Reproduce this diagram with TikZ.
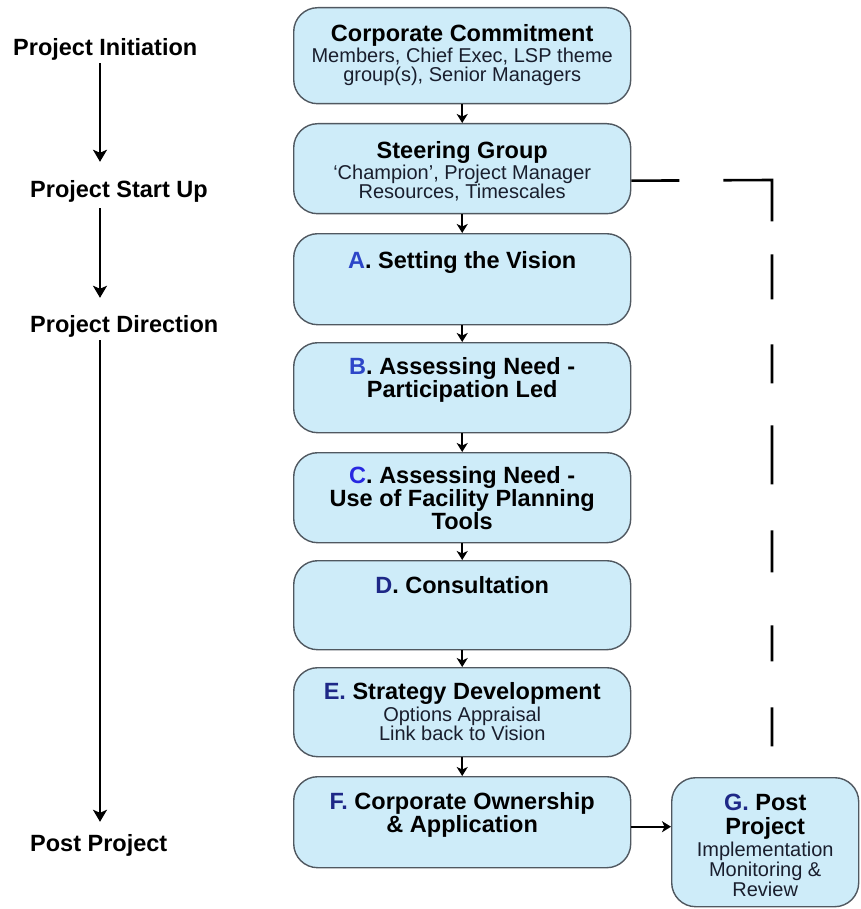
\documentclass[tikz,border=0pt]{standalone}
\usepackage{fontspec}
\setmainfont{Liberation Sans}
\usetikzlibrary{arrows.meta,calc}
\definecolor{boxfill}{RGB}{206,236,249}
\definecolor{boxline}{RGB}{80,88,96}
\definecolor{ltrA}{RGB}{45,70,200}
\definecolor{ltrC}{RGB}{40,40,225}
\definecolor{ltrN}{RGB}{30,40,135}
\definecolor{subtext}{RGB}{25,30,45}
\newcommand{\tfnt}{\fontsize{23.5pt}{23pt}\selectfont\bfseries}
\newcommand{\sfnt}{\fontsize{20pt}{19pt}\selectfont}
\newcommand{\bxc}[4]{\parbox[c][#2pt][t]{#1pt}{\centering\vspace*{#3pt}#4}}
\begin{document}
\begin{tikzpicture}[x=1pt,y=-1pt,
 box/.style={draw=boxline,fill=boxfill,line width=1.4pt,rounded corners=24pt,inner sep=0pt,anchor=north west},
 lbl/.style={anchor=west,inner sep=0pt,font=\tfnt,text height=17pt,text depth=5pt},
 flow/.style={line width=2pt,-{Stealth[length=9pt,width=11pt,inset=2.5pt]}},
 phase/.style={line width=2.6pt,-{Stealth[length=12pt,width=14pt,inset=3pt]}},
 feedback/.style={line width=2.6pt,dash pattern=on 48pt off 44pt on 90pt off 33pt on 45pt off 45pt on 39pt off 42pt on 59pt off 46pt on 42pt off 53pt on 36pt off 46pt on 39pt off 100pt}]
\useasboundingbox (0,0) rectangle (860,909);

% main column
\node[box] (cc) at (293,7) {\bxc{337}{96}{16.6}{{\tfnt Corporate Commitment\par}\vspace{1pt}{\color{subtext}\sfnt Members, Chief Exec, LSP theme\\ group(s), Senior Managers\par}}};
\node[box] (sg) at (293,123) {\bxc{337}{90}{17.6}{{\tfnt Steering Group\par}\vspace{1pt}{\color{subtext}\sfnt `Champion', Project Manager\\ Resources, Timescales\par}}};
\node[box] (a) at (293,233) {\bxc{337}{91}{17.6}{{\tfnt\textcolor{ltrA}{A}. Setting the Vision\par}}};
\node[box] (b) at (293,342) {\bxc{337}{90}{14.5}{{\tfnt\textcolor{ltrA}{B}. Assessing Need -\\ Participation Led\par}}};
\node[box] (c) at (293,452) {\bxc{337}{90}{13.6}{{\tfnt\textcolor{ltrC}{C}. Assessing Need -\\ Use of Facility Planning\\ Tools\par}}};
\node[box] (d) at (293,560) {\bxc{337}{89}{15.6}{{\tfnt\textcolor{ltrN}{D}. Consultation\par}}};
\node[box] (e) at (293,667) {\bxc{337}{89}{14.6}{{\tfnt\textcolor{ltrN}{E.} Strategy Development\par}\vspace{1.5pt}{\color{subtext}\sfnt Options Appraisal\\ Link back to Vision\par}}};
\node[box] (f) at (293,776) {\bxc{337}{91}{15.6}{{\tfnt\textcolor{ltrN}{F.} Corporate Ownership\\ \& Application\par}}};
\node[box] (g) at (671,777) {\bxc{187}{129}{16.6}{{\fontsize{23.5pt}{24pt}\selectfont\bfseries\textcolor{ltrN}{G.} Post\\ Project\par}\vspace{1.5pt}{\color{subtext}\fontsize{20pt}{20pt}\selectfont Implementation\\ Monitoring \&\\ Review\par}}};

\draw[flow] (cc.south) -- (sg.north);
\draw[flow] (sg.south) -- (a.north);
\draw[flow] (a.south) -- (b.north);
\draw[flow] (b.south) -- (c.north);
\draw[flow] (c.south) -- (d.north);
\draw[flow] (d.south) -- (e.north);
\draw[flow] (e.south) -- (f.north);
\draw[flow] ([yshift=-4.5pt]f.east) -- ([yshift=-4.5pt]f.east -| g.west);

% feedback dashed line
\coordinate (dturn) at (772,180);
\coordinate (dend) at (772,750);
\draw[feedback] ([yshift=-12pt]sg.east) -- (dturn) -- (dend);

% phase labels
\node[lbl] (pi) at (13,50) {Project Initiation};
\node[lbl] (psu) at (30,192) {Project Start Up};
\node[lbl] (pd) at (30,326) {Project Direction};
\node[lbl] (pp) at (30,845) {Post Project};
\coordinate (ax) at (100,0);
\draw[phase,shorten <=2pt,shorten >=19pt] (pi.south -| ax) -- (psu.north -| ax);
\draw[phase,shorten <=5pt,shorten >=17pt] (psu.south -| ax) -- (pd.north -| ax);
\draw[phase,shorten <=3pt,shorten >=12pt] (pd.south -| ax) -- (pp.north -| ax);
\end{tikzpicture}
\end{document}
